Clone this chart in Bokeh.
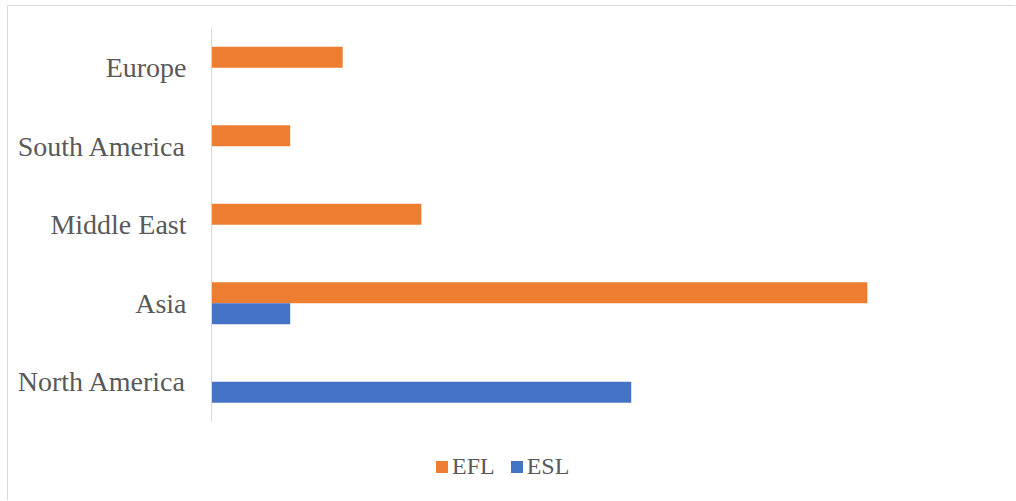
from bokeh.plotting import figure
from bokeh.models import Range1d, Legend, LegendItem, FixedTicker
from bokeh.embed import file_html
from bokeh.resources import INLINE

categories = ["North America", "Asia", "Middle East", "South America", "Europe"]
efl = [0, 25, 8, 3, 5]
esl = [16, 3, 0, 0, 0]

n = len(categories)
centers = [i + 0.5 for i in range(n)]
bh = 0.267
src = dict(cat=categories, c=centers,
           y_efl=[c + bh / 2 for c in centers], y_esl=[c - bh / 2 for c in centers],
           efl=efl, esl=esl)

# layout (pixels)
frame_h = 467
cat_px = 78.5
extra = frame_h / cat_px - n

p = figure(width=1008, height=495, output_backend="svg", toolbar_location=None,
           x_range=Range1d(0, 30), y_range=Range1d(-extra, n),
           min_border_left=203, min_border_right=18, min_border_top=22, min_border_bottom=6)
p.styles = {"border-top": "1px solid #d9d9d9", "border-left": "1px solid #d9d9d9",
            "margin-left": "7px", "margin-top": "5px"}
p.outline_line_color = None
p.background_fill_color = "white"
p.border_fill_color = "white"
p.xgrid.visible = False
p.ygrid.visible = False
p.xaxis.visible = False

ax = p.yaxis[0]
ax.bounds = (0, n)
ax.ticker = FixedTicker(ticks=centers)
ax.major_label_overrides = {c: name for c, name in zip(centers, categories)}
ax.axis_line_color = "#d9d9d9"
ax.axis_line_width = 1
ax.major_tick_line_color = None
ax.minor_tick_line_color = None
ax.major_label_standoff = 19
ax.major_label_text_font = "Liberation Serif"
ax.major_label_text_font_size = "28px"
ax.major_label_text_color = "#595959"

r1 = p.hbar(y="y_efl", left=0, right="efl", height=bh,
            source=src, fill_color="#ED7D31", line_color=None)
r2 = p.hbar(y="y_esl", left=0, right="esl", height=bh,
            source=src, fill_color="#4472C4", line_color=None)

legend = Legend(items=[LegendItem(label="EFL", renderers=[r1]),
                       LegendItem(label="ESL", renderers=[r2])],
                orientation="horizontal", location=(223, 15),
                glyph_width=15, glyph_height=15, label_standoff=3, spacing=14,
                padding=0, margin=0, border_line_color=None, background_fill_alpha=0,
                label_text_font="Liberation Serif", label_text_font_size="24px",
                label_text_color="#595959")
p.add_layout(legend, "center")

open("out.html", "w").write(file_html(p, INLINE))
